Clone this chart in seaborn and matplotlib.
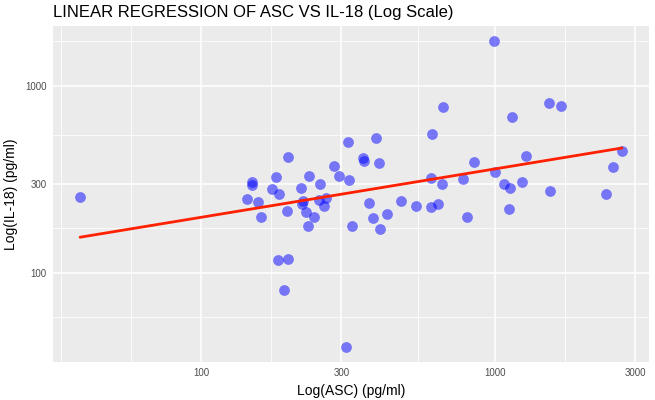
import numpy as np
import pandas as pd
import seaborn as sns
import matplotlib.pyplot as plt

# values (pg/ml)
asc = [38.8, 143.0, 149.1, 149.5, 156.3, 160.0, 174.4, 179.9, 184.2, 195.6,
       197.2, 183.2, 198.1, 192.0, 219.2, 221.4, 221.1, 227.6, 231.9, 233.4,
       242.9, 252.4, 253.4, 262.0, 266.2, 283.5, 295.4, 317.5, 316.2, 354.3,
       359.3, 392.2, 403.1, 372.8, 383.2, 326.8, 405.3, 429.8, 479.1, 539.9,
       605.8, 641.5, 607.3, 658.8, 780.3, 805.1, 848.5, 1000, 1075, 1122,
       1113, 1232, 1275, 1542, 2391, 2520, 2698, 310.6, 992, 665.5,
       610.6, 1530, 1673, 1142]
il18 = [252.7, 247.8, 304.0, 295.6, 238.8, 198.3, 279.3, 326.1, 263.2, 214.0,
        415.2, 117.3, 118.8, 81.1, 283.8, 241.2, 233.3, 212.5, 178.4, 328.9,
        198.6, 244.1, 299.2, 226.8, 249.6, 373.5, 331.0, 312.4, 499.9, 410.7,
        395.8, 525.9, 385.2, 235.3, 196.3, 178.4, 171.9, 206.2, 242.7, 227.4,
        225.4, 233.9, 320.9, 298.1, 317.0, 198.6, 392.4, 346.7, 298.1, 283.8,
        219.1, 304.0, 420.9, 273.5, 264.6, 367.5, 445.4, 40.1, 1734, 775,
        553.8, 814.1, 781.6, 685.1]

x_breaks = [100, 300, 1000, 3000]
y_breaks = [100, 300, 1000]

df = pd.DataFrame({'asc': asc, 'il18': il18})
df['log_asc'] = np.log10(df['asc'])
df['log_il18'] = np.log10(df['il18'])


def minor_breaks(breaks, lo, hi):
    # ggplot style: midpoints between majors, extended one step past the ends
    b = list(np.log10(breaks))
    step = b[1] - b[0]
    if lo < b[0]:
        b = [b[0] - step] + b
    if hi > b[-1]:
        b = b + [b[-1] + step]
    mids = [(a + c) / 2 for a, c in zip(b[:-1], b[1:])]
    return sorted(b + mids)


sns.set_theme(style='darkgrid', rc={
    'axes.facecolor': '#EBEBEB',
    'grid.color': 'white',
})
plt.rcParams['font.family'] = ['Liberation Sans', 'DejaVu Sans']

fig = plt.figure(figsize=(6.55, 4), dpi=100)
ax = fig.add_axes([53 / 655, 1 - 362 / 400, 596 / 655, 336 / 400])

sns.regplot(data=df, x='log_asc', y='log_il18', ci=None, ax=ax,
            scatter_kws=dict(s=60, color='#0000FF', alpha=0.5, linewidths=0),
            line_kws=dict(color='#FF2000', lw=2.0))

ax.set_xticks(np.log10(x_breaks))
ax.set_xticklabels([str(v) for v in x_breaks])
ax.set_yticks(np.log10(y_breaks))
ax.set_yticklabels([str(v) for v in y_breaks])

xlo, xhi = ax.get_xlim()
ylo, yhi = ax.get_ylim()
ax.set_xticks([v for v in minor_breaks(x_breaks, xlo, xhi) if xlo <= v <= xhi], minor=True)
ax.set_yticks([v for v in minor_breaks(y_breaks, ylo, yhi) if ylo <= v <= yhi], minor=True)
ax.set_xlim(xlo, xhi)
ax.set_ylim(ylo, yhi)

ax.grid(which='major', color='white', linewidth=1.1)
ax.grid(which='minor', color='white', linewidth=0.55)
ax.tick_params(which='major', length=2.5, width=0.8, color='#333333',
               labelsize=7, labelcolor='#4D4D4D', pad=2)
ax.tick_params(which='minor', length=0)
for s in ax.spines.values():
    s.set_visible(False)

ax.set_xlabel('Log(ASC) (pg/ml)', fontsize=10, color='black', labelpad=4)
ax.set_ylabel('Log(IL-18) (pg/ml)', fontsize=10, color='black', labelpad=5)
fig.text(53 / 655, 1 - 13 / 400, 'LINEAR REGRESSION OF ASC VS IL-18 (Log Scale)',
         fontsize=12, ha='left', va='center', color='black')

fig.savefig('out.png', dpi=100, facecolor='white')
